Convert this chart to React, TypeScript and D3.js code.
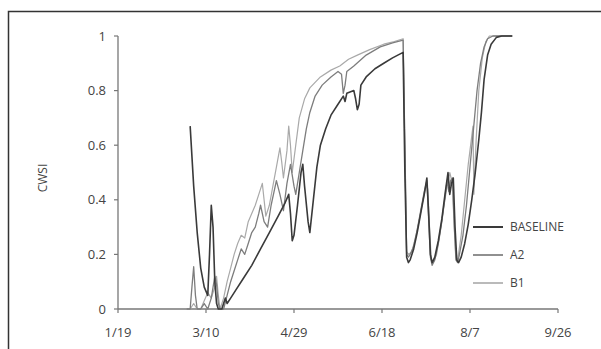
import React from "react";
import * as d3 from "d3";

// day of year (non-leap year) and CWSI values
const baseline: [number, number][] = [
  [60, 0.67], [62, 0.45], [64, 0.28], [66, 0.15], [68, 0.08], [70, 0.05],
  [71, 0.2], [72, 0.38], [73, 0.3], [74, 0.1], [75, 0.02], [76, 0], [78, 0],
  [80, 0.04], [81, 0.02], [83, 0.04], [86, 0.07], [90, 0.11], [95, 0.16],
  [100, 0.22], [105, 0.28], [110, 0.34], [114, 0.39], [116, 0.42], [117, 0.35],
  [118, 0.25], [119, 0.27], [121, 0.38], [123, 0.5], [124, 0.53], [125, 0.45],
  [127, 0.32], [128, 0.28], [130, 0.4], [132, 0.52], [134, 0.6], [137, 0.66],
  [140, 0.71], [144, 0.75], [147, 0.78], [148, 0.76], [149, 0.79], [153, 0.8],
  [154, 0.77], [155, 0.73], [156, 0.75], [157, 0.82], [160, 0.85], [165, 0.88],
  [170, 0.9], [175, 0.92], [181, 0.94], [182, 0.5], [183, 0.19], [184, 0.17],
  [185, 0.18], [187, 0.22], [189, 0.28], [191, 0.35], [193, 0.42], [194.5, 0.48],
  [195.5, 0.35], [196.5, 0.2], [197.5, 0.17], [199, 0.19], [201, 0.25],
  [203, 0.33], [205, 0.43], [206.5, 0.5], [207.5, 0.42], [208.5, 0.46],
  [209.5, 0.48], [210.5, 0.3], [211.5, 0.18], [212.5, 0.17], [214, 0.19],
  [216, 0.24], [218, 0.31], [220, 0.4], [222, 0.5], [224, 0.62], [225.5, 0.72],
  [227, 0.84], [229, 0.93], [231, 0.97], [234, 0.995], [237, 1], [243, 1],
];

const a2: [number, number][] = [
  [58, 0], [60, 0], [61, 0.08], [62, 0.155], [63, 0.05], [64, 0], [66, 0],
  [68, 0.02], [70, 0], [72, 0.04], [74, 0.12], [75, 0.09], [76, 0.02], [77, 0],
  [79, 0], [81, 0.05], [83, 0.1], [85, 0.14], [87, 0.18], [89, 0.22], [91, 0.2],
  [93, 0.24], [95, 0.28], [97, 0.3], [99, 0.35], [100, 0.38], [102, 0.32],
  [104, 0.3], [106, 0.38], [108, 0.44], [109, 0.47], [111, 0.42], [113, 0.36],
  [115, 0.46], [117, 0.53], [119, 0.45], [120, 0.42], [122, 0.5], [124, 0.58],
  [126, 0.66], [128, 0.72], [131, 0.78], [135, 0.82], [140, 0.85], [144, 0.87],
  [146, 0.86], [147, 0.79], [148, 0.82], [149, 0.87], [153, 0.89], [160, 0.93],
  [168, 0.96], [175, 0.975], [181, 0.985], [182, 0.6], [183, 0.2], [184, 0.19],
  [185, 0.2], [187, 0.23], [189, 0.29], [191, 0.36], [193, 0.43], [194.5, 0.47],
  [195.5, 0.33], [196.5, 0.19], [197.5, 0.16], [199, 0.18], [201, 0.24],
  [203, 0.32], [205, 0.42], [206, 0.47], [207, 0.43], [208, 0.47], [209, 0.48],
  [210, 0.32], [211, 0.18], [212, 0.17], [213, 0.2], [215, 0.27], [217, 0.38],
  [219, 0.52], [221, 0.66], [223, 0.8], [225, 0.9], [227, 0.96], [229, 0.99],
  [232, 1], [243, 1],
];

const b1: [number, number][] = [
  [58, 0], [60, 0], [62, 0.02], [64, 0], [66, 0], [68, 0.03], [70, 0.06],
  [72, 0.04], [74, 0.08], [75, 0.12], [76, 0.05], [77, 0], [79, 0.04],
  [81, 0.1], [83, 0.15], [85, 0.2], [87, 0.24], [89, 0.27], [91, 0.26],
  [93, 0.32], [95, 0.35], [97, 0.38], [99, 0.42], [101, 0.46], [102, 0.4],
  [103, 0.34], [105, 0.38], [107, 0.45], [109, 0.52], [111, 0.59], [112, 0.54],
  [113, 0.48], [115, 0.58], [116, 0.67], [117, 0.6], [118, 0.5], [120, 0.6],
  [122, 0.7], [125, 0.77], [128, 0.81], [134, 0.85], [140, 0.875], [145, 0.89],
  [150, 0.915], [155, 0.93], [162, 0.95], [170, 0.97], [176, 0.98], [181, 0.99],
  [182, 0.6], [183, 0.21], [184, 0.2], [186, 0.21], [188, 0.26], [190, 0.32],
  [192, 0.39], [194, 0.45], [195, 0.44], [196, 0.3], [197, 0.18], [198, 0.17],
  [200, 0.2], [202, 0.28], [204, 0.37], [206, 0.45], [207.5, 0.5], [209, 0.46],
  [210, 0.3], [211, 0.19], [212, 0.18], [214, 0.27], [216, 0.4], [218, 0.53],
  [220.7, 0.67], [221.2, 0.42], [222.5, 0.62], [224, 0.8], [226, 0.92],
  [228, 0.98], [230, 1], [243, 1],
];

const xTicks = [19, 69, 119, 169, 219, 269];
const xLabels = ["1/19", "3/10", "4/29", "6/18", "8/7", "9/26"];
const yTicks = [0, 0.2, 0.4, 0.6, 0.8, 1];
const yLabels = ["0", "0.2", "0.4", "0.6", "0.8", "1"];

const seriesNames = ["BASELINE", "A2", "B1"];
const seriesData = [baseline, a2, b1];

const colors = ["#3a3a3a", "#7d7d7d", "#a9a9a9"];
const widths = [1.6, 1.3, 1.2];

export default function App() {
  const width = 601;
  const height = 349;
  const x = d3.scaleLinear().domain([19, 269]).range([118, 558]);
  const y = d3.scaleLinear().domain([0, 1]).range([309, 36]);
  const line = d3
    .line<[number, number]>()
    .x((d) => x(d[0]))
    .y((d) => y(d[1]));

  const font = "'Open Sans', sans-serif";

  return (
    <svg
      width={width}
      height={height}
      style={{ position: "absolute", left: 0, top: 0, background: "#fff" }}
    >
      <rect x={8.5} y={11.5} width={610} height={360} fill="#fff" stroke="#333" strokeWidth={1.5} />

      {/* y axis */}
      <line x1={x(19)} x2={x(19)} y1={y(1)} y2={y(0)} stroke="#777" strokeWidth={1.3} />
      {yTicks.map((t, i) => (
        <g key={t}>
          <line x1={x(19) - 4} x2={x(19)} y1={y(t)} y2={y(t)} stroke="#777" strokeWidth={1.2} />
          <text
            x={x(19) - 12}
            y={y(t)}
            dy="0.35em"
            textAnchor="end"
            fontFamily={font}
            fontSize={13}
            fill="#444"
          >
            {yLabels[i]}
          </text>
        </g>
      ))}

      {/* x axis */}
      <line x1={x(19)} x2={x(269)} y1={y(0)} y2={y(0)} stroke="#777" strokeWidth={1.3} />
      {xTicks.map((t, i) => (
        <g key={t}>
          <line x1={x(t)} x2={x(t)} y1={y(0)} y2={y(0) + 4} stroke="#777" strokeWidth={1.2} />
          <text
            x={x(t)}
            y={337}
            textAnchor="middle"
            fontFamily={font}
            fontSize={13}
            fill="#444"
          >
            {xLabels[i]}
          </text>
        </g>
      ))}

      <text
        transform="translate(47,178) rotate(-90)"
        textAnchor="middle"
        fontFamily={font}
        fontSize={12}
        fill="#444"
      >
        CWSI
      </text>

      {/* series, lightest underneath */}
      {[2, 1, 0].map((i) => (
        <path
          key={seriesNames[i]}
          d={line(seriesData[i]) || ""}
          fill="none"
          stroke={colors[i]}
          strokeWidth={widths[i]}
          strokeLinejoin="round"
        />
      ))}

      {/* legend */}
      {seriesNames.map((name, i) => (
        <g key={name} transform={`translate(473,${227 + i * 28})`}>
          <line x1={0} x2={30} y1={0} y2={0} stroke={colors[i]} strokeWidth={widths[i] + 0.4} />
          <text x={37} y={0} dy="0.35em" fontFamily={font} fontSize={12} fill="#444">
            {name}
          </text>
        </g>
      ))}
    </svg>
  );
}
